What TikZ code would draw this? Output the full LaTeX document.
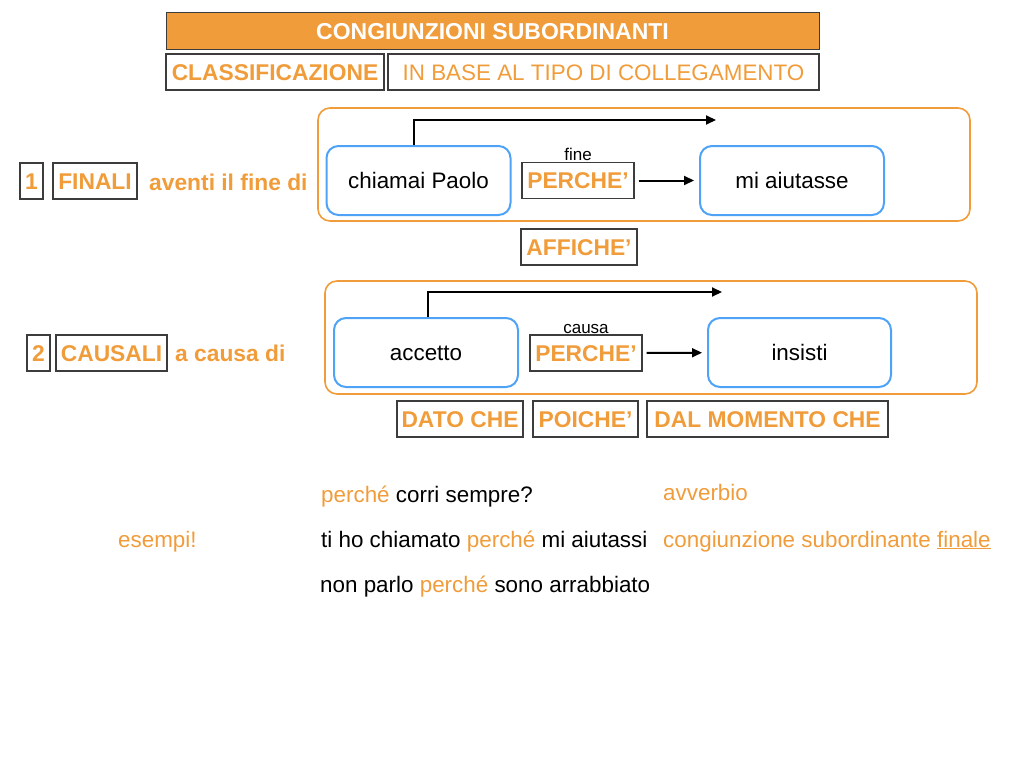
\documentclass[tikz,border=0pt]{standalone}
\usepackage{fontspec}
\setmainfont{Liberation Sans}
\usetikzlibrary{arrows.meta}
\usepackage{xcolor}
\definecolor{arancio}{RGB}{240,156,58}
\definecolor{azzurro}{RGB}{78,163,246}
\definecolor{bordo}{RGB}{60,60,60}

\begin{document}
\begin{tikzpicture}[x=1pt, y=-1pt,
testo/.style={font=\fontsize{22.4}{26}\selectfont, text height=16pt, text depth=0pt, inner sep=0pt},
titolo/.style={testo, draw=bordo, line width=1pt, fill=arancio, text=white, font=\bfseries\fontsize{23}{27}\selectfont, minimum width=653pt, minimum height=37pt},
casella/.style={testo, draw=bordo, line width=1.1pt, text=arancio, font=\bfseries\fontsize{22.8}{26}\selectfont, minimum height=36pt},
cornice/.style={draw=arancio, line width=1.6pt, rounded corners=12pt, minimum width=652pt, minimum height=113pt},
frase/.style={testo, draw=azzurro, line width=2pt, rounded corners=12pt, minimum width=184pt, minimum height=69pt},
etichetta/.style={font=\fontsize{17}{20}\selectfont, inner sep=1pt, above},
riga/.style={testo, anchor=base west},
freccia/.style={-{Triangle[length=10pt,width=9pt]}, line width=2pt}]
\useasboundingbox (0,0) rectangle (1024,768);
\par
\node[titolo] (titolo) at (492.5,31.5) {CONGIUNZIONI SUBORDINANTI};
\node[casella, minimum width=218pt] (classif) at (275,72) {CLASSIFICAZIONE};
\node[casella, font=\fontsize{22.4}{26}\selectfont, minimum width=431pt] (tipo) at (603.5,72) {IN BASE AL TIPO DI COLLEGAMENTO};
\par
% finali
\node[casella, minimum width=23pt] (uno) at (31.5,181) {1};
\node[casella, minimum width=84pt] (finali) at (95,181) {FINALI};
\node[riga, text=arancio, font=\bfseries\fontsize{22.8}{26}\selectfont] (aventi) at (149,190) {aventi il fine di};
\node[cornice] (corniceA) at (644,164.5) {};
\node[frase] (paolo) at (418.5,180.5) {chiamai Paolo};
\node[frase] (aiutasse) at (792,180.5) {mi aiutasse};
\node[casella, minimum width=112pt] (perchA) at (578,180.5) {PERCHE’};
\node[etichetta] (fine) at (perchA.north) {fine};
\node[casella, minimum width=116pt] (affiche) at (579,247) {AFFICHE’};
\coordinate (puntaA) at (716,120);
\draw[freccia] ([xshift=-5pt]paolo.north) |- (puntaA);
\draw[freccia, shorten <=4pt, shorten >=5pt] (perchA) -- (aiutasse);
\par
% causali
\node[casella, minimum width=23pt] (due) at (38.5,353) {2};
\node[casella, minimum width=111pt] (causali) at (111.5,353) {CAUSALI};
\node[riga, text=arancio, font=\bfseries\fontsize{22.8}{26}\selectfont] (acausa) at (175,361) {a causa di};
\node[cornice] (corniceB) at (651,337.5) {};
\node[frase] (accetto) at (426,352.5) {accetto};
\node[frase, minimum width=183pt] (insisti) at (799.5,352.5) {insisti};
\node[casella, minimum width=112pt] (perchB) at (586,353) {PERCHE’};
\node[etichetta] (causa) at (perchB.north) {causa};
\node[casella, minimum width=126pt] (dato) at (460,419) {DATO CHE};
\node[casella, minimum width=105pt] (poiche) at (585.5,419) {POICHE’};
\node[casella, minimum width=241pt] (momento) at (767.5,419) {DAL MOMENTO CHE};
\coordinate (puntaB) at (722,292);
\draw[freccia] ([xshift=2pt]accetto.north) |- (puntaB);
\draw[freccia, shorten <=4pt, shorten >=5pt] (perchB) -- (insisti);
\par
% esempi
\node[riga] (es1) at (321,502) {\textcolor{arancio}{perché} corri sempre?};
\node[riga, text=arancio] (avverbio) at (663,500) {avverbio};
\node[riga, text=arancio] (esempi) at (118,547) {esempi!};
\node[riga] (es2) at (321,547) {ti ho chiamato \textcolor{arancio}{perché} mi aiutassi};
\node[riga, text=arancio] (cong) at (663,547) {congiunzione subordinante \underline{finale}};
\node[riga] (es3) at (320,592) {non parlo \textcolor{arancio}{perché} sono arrabbiato};
\par
\end{tikzpicture}
\end{document}
